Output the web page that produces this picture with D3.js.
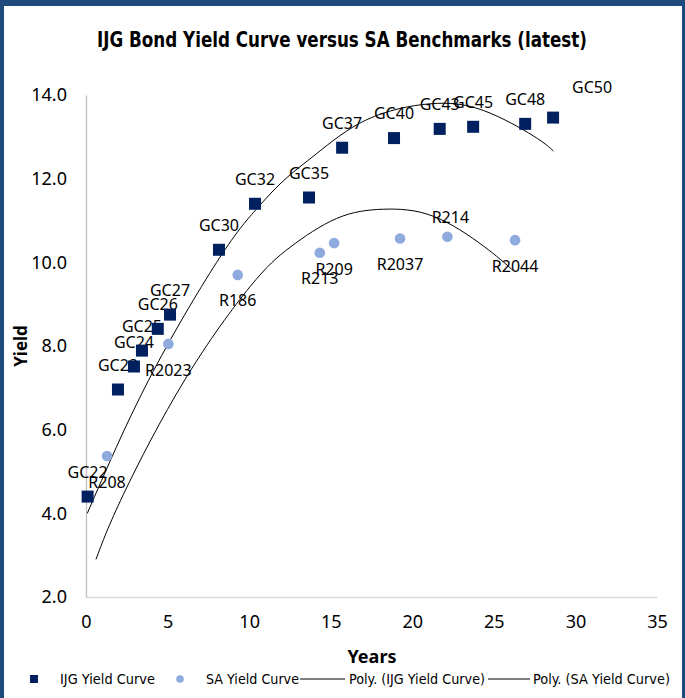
<!DOCTYPE html>
<html>
<head>
<meta charset="utf-8">
<script src="https://cdn.jsdelivr.net/npm/d3@7"></script>
<style>
  body { margin: 0; background: #fff; }
  svg { display: block; }
</style>
</head>
<body>
<svg id="chart" width="685" height="698"></svg>
<script>
// IJG bonds (squares)
const ijgBonds  = ["GC22", "GC23", "GC24", "GC25", "GC26", "GC27", "GC30", "GC32", "GC35", "GC37", "GC40", "GC43", "GC45", "GC48", "GC50"];
const ijgYears  = [0.10, 1.96, 2.94, 3.43, 4.40, 5.15, 8.15, 10.36, 13.67, 15.70, 18.88, 21.68, 23.73, 26.92, 28.63];
const ijgYields = [4.40, 6.96, 7.51, 7.89, 8.41, 8.75, 10.30, 11.40, 11.55, 12.74, 12.97, 13.19, 13.24, 13.31, 13.46];

// SA benchmarks (circles)
const saBonds  = ["R208", "R2023", "R186", "R213", "R209", "R2037", "R214", "R2044"];
const saYears  = [1.29, 5.05, 9.30, 14.33, 15.21, 19.25, 22.15, 26.30];
const saYields = [5.37, 8.05, 9.70, 10.23, 10.46, 10.57, 10.61, 10.53];

// polynomial trendlines
const ijgTrendYears  = [0.08, 3.82, 8.01, 10.26, 12.10, 14.14, 17.21, 21.09, 24.36, 27.43, 28.65];
const ijgTrendYields = [4.00, 7.17, 10.00, 11.19, 11.95, 12.60, 13.41, 13.79, 13.63, 13.02, 12.66];
const saTrendYears   = [0.61, 2.29, 6.07, 10.06, 12.51, 15.37, 18.23, 21.30, 24.36, 26.20];
const saTrendYields  = [2.90, 4.45, 7.20, 9.42, 10.36, 11.05, 11.27, 11.10, 10.39, 9.80];

const xTicks = [0, 5, 10, 15, 20, 25, 30, 35];
const yTicks = [2, 4, 6, 8, 10, 12, 14];

const legendLabels = ["IJG Yield Curve", "SA Yield Curve", "Poly. (IJG Yield Curve)", "Poly. (SA Yield Curve)"];

const navy = "#002060";
const lightBlue = "#8faadc";
const border = "#1f4a7d";

const svg = d3.select("#chart");
const width = +svg.attr("width");
const height = +svg.attr("height");

const plot = { left: 86, right: 657, top: 95, bottom: 597 };

const x = d3.scaleLinear().domain([0, 35]).range([plot.left, plot.right]);
const y = d3.scaleLinear().domain([2, 14]).range([plot.bottom, plot.top]);

// frame
svg.append("rect").attr("x", 0).attr("y", 0).attr("width", width).attr("height", height).attr("fill", "#fff");
svg.append("rect").attr("x", 0).attr("y", 0).attr("width", width).attr("height", 6).attr("fill", border);
svg.append("rect").attr("x", 0).attr("y", 0).attr("width", 4).attr("height", height).attr("fill", border);
svg.append("rect").attr("x", 682).attr("y", 0).attr("width", 3).attr("height", height).attr("fill", border);

// title
svg.append("text")
    .attr("x", 342).attr("y", 47)
    .attr("text-anchor", "middle")
    .attr("font-family", "'Liberation Sans Narrow', 'DejaVu Sans Condensed', 'Noto Sans', sans-serif")
    .attr("font-weight", "bold")
    .attr("font-size", 21)
    .attr("textLength", 490)
    .attr("lengthAdjust", "spacingAndGlyphs")
    .attr("fill", "#000")
    .text("IJG Bond  Yield Curve versus SA Benchmarks (latest)");

// axes
const xAxis = d3.axisBottom(x).tickValues(xTicks).tickSize(0).tickPadding(18).tickFormat(d3.format("d"));
const yAxis = d3.axisLeft(y).tickValues(yTicks).tickSize(0).tickPadding(19).tickFormat(d3.format(".1f"));

const gx = svg.append("g").attr("transform", `translate(0,${plot.bottom})`).call(xAxis);
gx.select(".domain").attr("stroke", "#d9d9d9").attr("stroke-width", 1.3);
gx.selectAll("text").attr("font-family", "'Noto Sans', sans-serif").attr("font-size", 18).attr("fill", "#000");

const gy = svg.append("g").attr("transform", `translate(${plot.left},0)`).call(yAxis);
gy.select(".domain").attr("stroke", "#bfbfbf").attr("stroke-width", 1.3);
gy.selectAll("text").attr("font-family", "'Noto Sans', sans-serif").attr("font-size", 18).attr("fill", "#000");

// axis titles
svg.append("text")
    .attr("x", 372).attr("y", 663)
    .attr("text-anchor", "middle")
    .attr("font-family", "'Noto Sans', sans-serif")
    .attr("font-weight", "bold")
    .attr("font-size", 18)
    .text("Years");

svg.append("text")
    .attr("transform", "translate(27,346) rotate(-90)")
    .attr("text-anchor", "middle")
    .attr("font-family", "'Noto Sans', sans-serif")
    .attr("font-weight", "bold")
    .attr("font-size", 17)
    .text("Yield");

// trendlines
const line = d3.line().x(d => x(d[0])).y(d => y(d[1])).curve(d3.curveNatural);

svg.append("path")
    .datum(d3.zip(ijgTrendYears, ijgTrendYields))
    .attr("d", line)
    .attr("fill", "none").attr("stroke", "#000").attr("stroke-width", 1);

svg.append("path")
    .datum(d3.zip(saTrendYears, saTrendYields))
    .attr("d", line)
    .attr("fill", "none").attr("stroke", "#000").attr("stroke-width", 1);

// data
const ijg = ijgBonds.map((name, i) => ({ name, years: ijgYears[i], yld: ijgYields[i] }));
const sa = saBonds.map((name, i) => ({ name, years: saYears[i], yld: saYields[i] }));

const labelFont = "'Noto Sans', sans-serif";

// labels: IJG above, SA below (a couple nudged as in the source)
svg.append("g").selectAll("text").data(ijg).join("text")
    .attr("x", d => x(d.years) + (d.name === "GC50" ? 39 : 0))
    .attr("y", d => y(d.yld) + (d.name === "GC50" ? -30 : -24.5))
    .attr("dy", "0.35em")
    .attr("text-anchor", "middle")
    .attr("font-family", labelFont)
    .attr("font-size", 16)
    .attr("fill", "#000")
    .text(d => d.name);

svg.append("g").selectAll("text").data(sa).join("text")
    .attr("x", d => x(d.years) + (d.name === "R214" ? 3 : 0))
    .attr("y", d => y(d.yld) + (d.name === "R214" ? -19 : 26))
    .attr("dy", "0.35em")
    .attr("text-anchor", "middle")
    .attr("font-family", labelFont)
    .attr("font-size", 16)
    .attr("fill", "#000")
    .text(d => d.name);

// markers
const sq = 12;
svg.append("g").selectAll("rect").data(ijg).join("rect")
    .attr("x", d => x(d.years) - sq / 2)
    .attr("y", d => y(d.yld) - sq / 2)
    .attr("width", sq).attr("height", sq)
    .attr("fill", navy);

svg.append("g").selectAll("circle").data(sa).join("circle")
    .attr("cx", d => x(d.years))
    .attr("cy", d => y(d.yld))
    .attr("r", 5.3)
    .attr("fill", lightBlue);

// legend
const legY = 679;
const legFont = "'Liberation Sans Narrow', 'DejaVu Sans Condensed', 'Noto Sans', sans-serif";
const leg = svg.append("g");

leg.append("rect").attr("x", 30).attr("y", legY - 4).attr("width", 8).attr("height", 8).attr("fill", navy);
leg.append("circle").attr("cx", 180).attr("cy", legY).attr("r", 3.8).attr("fill", lightBlue);
leg.append("line").attr("x1", 300).attr("x2", 345).attr("y1", legY).attr("y2", legY).attr("stroke", "#000").attr("stroke-width", 1);
leg.append("line").attr("x1", 488).attr("x2", 530).attr("y1", legY).attr("y2", legY).attr("stroke", "#000").attr("stroke-width", 1);

const legX = [60, 206, 349, 533];
const legW = [95, 93, 136, 137];
leg.selectAll("text").data(legendLabels).join("text")
    .attr("x", (d, i) => legX[i])
    .attr("y", legY)
    .attr("dy", "0.35em")
    .attr("font-family", legFont)
    .attr("font-size", 14)
    .attr("textLength", (d, i) => legW[i])
    .attr("lengthAdjust", "spacingAndGlyphs")
    .attr("fill", "#000")
    .text(d => d);
</script>
</body>
</html>
